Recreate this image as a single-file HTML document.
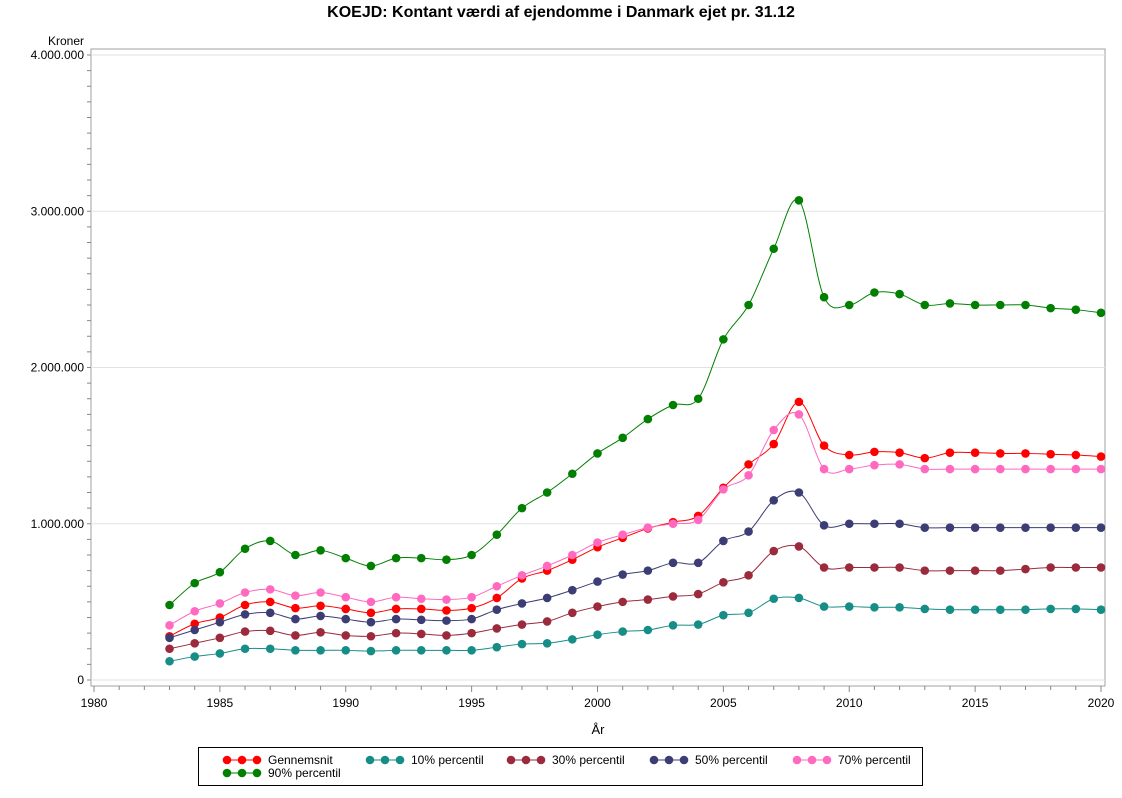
<!DOCTYPE html>
<html><head><meta charset="utf-8"><style>
body{margin:0;background:#fff;font-family:"Liberation Sans",sans-serif}
svg text{font-family:"Liberation Sans",sans-serif}
</style></head><body>
<svg id="chart" width="1122" height="793" xmlns="http://www.w3.org/2000/svg">
<text x="561" y="17" text-anchor="middle" font-size="16" font-weight="bold">KOEJD: Kontant værdi af ejendomme i Danmark ejet pr. 31.12</text>
<text x="84" y="45" text-anchor="end" font-size="12">Kroner</text>
<text x="598" y="734" text-anchor="middle" font-size="13">År</text>
<rect x="91" y="49" width="1014" height="637" fill="none" stroke="#a0a0a0" stroke-width="1"/>
<g id="grid"></g><g id="axes"></g><g id="series"></g>
<g id="legend">
<rect x="198.5" y="747.5" width="724" height="38" fill="#fff" stroke="#000"/>
</g>
</svg>
<script>
const years=[1983,1984,1985,1986,1987,1988,1989,1990,1991,1992,1993,1994,1995,1996,1997,1998,1999,2000,2001,2002,2003,2004,2005,2006,2007,2008,2009,2010,2011,2012,2013,2014,2015,2016,2017,2018,2019,2020];
const mean=[280,360,400,480,500,460,475,455,430,455,455,445,460,525,650,700,770,850,910,970,1010,1050,1230,1380,1510,1780,1500,1440,1460,1455,1420,1455,1455,1450,1450,1445,1440,1430];
const p10=[120,150,170,200,200,190,190,190,185,190,190,190,190,210,230,235,260,290,310,320,350,355,415,430,520,525,470,470,465,465,455,450,450,450,450,455,455,450];
const p30=[200,235,270,310,315,285,305,285,280,300,295,285,300,330,355,375,430,470,500,515,535,550,625,670,825,855,720,720,720,720,700,700,700,700,710,720,720,720];
const p50=[270,320,370,420,430,390,410,390,370,390,385,380,390,450,490,525,575,630,675,700,750,750,890,950,1150,1200,990,1000,1000,1000,975,975,975,975,975,975,975,975];
const p70=[350,440,490,560,580,540,560,530,500,530,520,515,530,600,670,730,800,880,930,975,1000,1025,1220,1310,1600,1700,1350,1350,1375,1380,1350,1350,1350,1350,1350,1350,1350,1350];
const p90=[480,620,690,840,890,800,830,780,730,780,780,770,800,930,1100,1200,1320,1450,1550,1670,1760,1800,2180,2400,2760,3070,2450,2400,2480,2470,2400,2410,2400,2400,2400,2380,2370,2350];
const yTicks=[0,1000,2000,3000,4000];
const yTickLabels=["0","1.000.000","2.000.000","3.000.000","4.000.000"];
const xTicks=[1980,1985,1990,1995,2000,2005,2010,2015,2020];
const seriesNames=["Gennemsnit","10% percentil","30% percentil","50% percentil","70% percentil","90% percentil"];
const NS="http://www.w3.org/2000/svg";
const X=y=>94+(y-1980)*(1007/40);
const Y=v=>680-v*(625/4000);
function mk(t,a,p){const e=document.createElementNS(NS,t);for(const k in a)e.setAttribute(k,a[k]);p.appendChild(e);return e;}
const grid=document.getElementById('grid'),axes=document.getElementById('axes'),ser=document.getElementById('series'),leg=document.getElementById('legend');
yTicks.forEach((v,i)=>{
 const g=mk('line',{x1:91,x2:1105,y1:Y(v),y2:Y(v),stroke:'#e2e2e2'},grid);
 
 
 const t=mk('text',{x:84,y:Y(v)+4,'text-anchor':'end','font-size':12},axes);t.textContent=yTickLabels[i];
 
 
});
for(let v=0;v<=4000;v+=100){mk('line',{x1:87,x2:91,y1:Y(v),y2:Y(v),stroke:'#888'},axes);}
for(let y=1980;y<=2020;y++){mk('line',{x1:X(y),x2:X(y),y1:686,y2:(y%5?690:692),stroke:'#888'},axes);}
xTicks.forEach(y=>{const t=mk('text',{x:X(y),y:707,'text-anchor':'middle','font-size':12},axes);t.textContent=y;
 
 });
function path(vals){const p=vals.map((v,i)=>[X(years[i]),Y(v)]);let d=`M${p[0][0]},${p[0][1]}`;
 for(let i=0;i<p.length-1;i++){const a=p[Math.max(i-1,0)],b=p[i],c=p[i+1],e=p[Math.min(i+2,p.length-1)];
 d+=` C${b[0]+(c[0]-a[0])/6},${b[1]+(c[1]-a[1])/6} ${c[0]-(e[0]-b[0])/6},${c[1]-(e[1]-b[1])/6} ${c[0]},${c[1]}`;}return d;}
const data=[mean,p10,p30,p50,p70,p90];
const cols=["#ff0000","#168d86","#9a2a3c","#3d3d75","#ff69c0","#007f00"];
const names=["series-mean","series-p10","series-p30","series-p50","series-p70","series-p90"];
data.forEach((vals,k)=>{
 const g=mk('g',{},ser);
 
 
 mk('path',{d:path(vals),fill:'none',stroke:cols[k],'stroke-width':1},g);
 vals.forEach((v,i)=>{const c=mk('circle',{cx:X(years[i]),cy:Y(v),r:4.3,fill:cols[k]},g);
  
  });
});
const lx=[227,370,511,654,797];
seriesNames.forEach((n,k)=>{
 const x=k<5?lx[k]:lx[0],y=k<5?760:773;
 const g=mk('g',{},leg);
 
 
 mk('line',{x1:x,x2:x+30,y1:y,y2:y,stroke:cols[k]},g);
 [0,15,30].forEach(d=>mk('circle',{cx:x+d,cy:y,r:4.3,fill:cols[k]},g));
 const t=mk('text',{x:x+41,y:y+4,'font-size':12},g);t.textContent=n;
});
</script>
</body></html>
